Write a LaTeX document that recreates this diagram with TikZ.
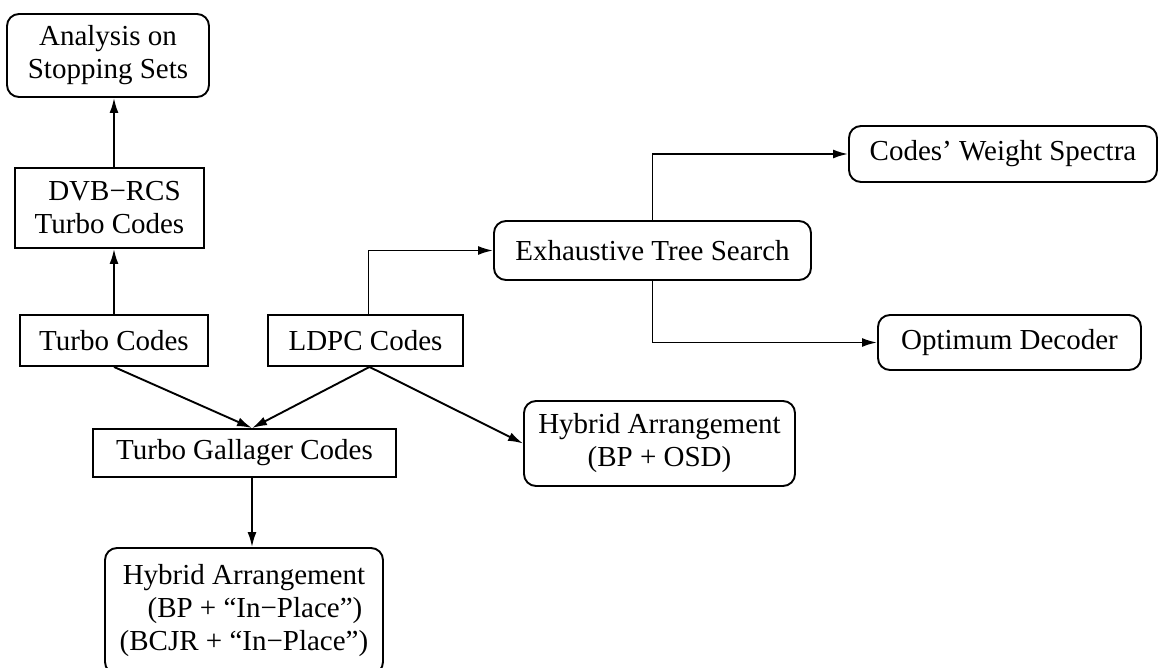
\documentclass[tikz,border=0pt]{standalone}
\usepackage{fontspec}
\setmainfont{Liberation Serif}
\usetikzlibrary{arrows.meta}
\begin{document}
\begin{tikzpicture}[x=0.5pt,y=-0.5pt,
  box/.style={draw, line width=0.95pt, inner sep=0pt, align=center,
    font=\fontsize{14.5pt}{16.5pt}\selectfont},
  rbox/.style={box, rounded corners=6pt},
  arr/.style={line width=0.95pt, -{Latex[length=7.5pt,width=4.5pt]}}]
\useasboundingbox (0,0) rectangle (1164,668);
\clip (0,0) rectangle (1164,668);
\node[rbox, minimum width=101pt, minimum height=41.5pt] (ana) at (108,55.5) {Analysis on\\Stopping Sets};
\node[box, minimum width=94.5pt, minimum height=40pt] (dvb) at (109.5,208) {\hspace*{5pt}DVB−RCS\\Turbo Codes};
\node[box, minimum width=94pt, minimum height=25.5pt] (turbo) at (114,340.5) {Turbo Codes};
\node[box, minimum width=97.5pt, minimum height=25.5pt] (ldpc) at (365.5,340.5) {LDPC Codes};
\node[box, minimum width=151.5pt, minimum height=24pt] (tg) at (244.5,453) {Turbo Gallager Codes};
\node[rbox, minimum width=135.5pt, minimum height=42.5pt] (hosd) at (659.5,443.5) {Hybrid Arrangement\\(BP + OSD)};
\node[rbox, minimum width=139pt, minimum height=63pt] (hip) at (244,611) {Hybrid Arrangement\\\hspace*{11pt}(BP + ``In−Place'')\\(BCJR + ``In−Place'')};
\node[rbox, minimum width=158.5pt, minimum height=29.5pt] (ets) at (652.5,250.5) {Exhaustive Tree Search};
\node[rbox, minimum width=154pt, minimum height=28pt] (cws) at (1003,154) {Codes’ Weight Spectra};
\node[rbox, minimum width=131.5pt, minimum height=27.5pt] (opt) at (1009.5,342.5) {Optimum Decoder};
\draw[arr] (turbo.north) -- (turbo.north |- dvb.south);
\draw[arr] (turbo.north |- dvb.north) -- (turbo.north |- ana.south);
\draw[arr] ([xshift=1.5pt]ldpc.north) |- (ets.west);
\draw[arr] (ets.north) |- (cws.west);
\draw[arr] (ets.south) |- (opt.west);
\draw[arr] (turbo.south) -- ([xshift=3.75pt]tg.north);
\draw[arr] ([xshift=2pt]ldpc.south) -- ([xshift=3.75pt]tg.north);
\draw[arr] ([xshift=2pt]ldpc.south) -- (hosd.west);
\draw[arr] ([xshift=3.75pt]tg.south) -- ([xshift=3.75pt]tg.south |- hip.north);
\end{tikzpicture}
\end{document}
